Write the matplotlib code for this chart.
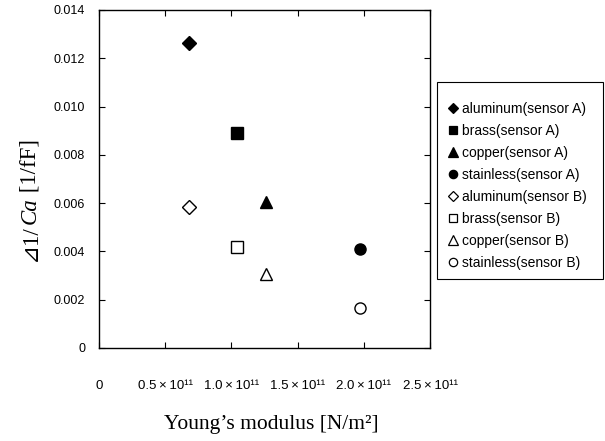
import matplotlib
matplotlib.use("Agg")
import matplotlib.pyplot as plt
from matplotlib.lines import Line2D
from matplotlib.patches import Rectangle

labels = ["aluminum(sensor A)", "brass(sensor A)", "copper(sensor A)", "stainless(sensor A)",
          "aluminum(sensor B)", "brass(sensor B)", "copper(sensor B)", "stainless(sensor B)"]
young = [0.68e11, 1.04e11, 1.265e11, 1.97e11, 0.68e11, 1.04e11, 1.265e11, 1.97e11]
dinv_ca = [0.01265, 0.00892, 0.00603, 0.00412, 0.00585, 0.00420, 0.00306, 0.00164]
markers = ["D", "s", "^", "o", "D", "s", "^", "o"]
filled = [True, True, True, True, False, False, False, False]
msizes = [7, 8.5, 9, 8, 7, 8.5, 9, 8]

xticks = [0, 0.5e11, 1.0e11, 1.5e11, 2.0e11, 2.5e11]
xticklabels = ["0", "0.5\u2009\u00d7\u200910\u00b9\u00b9", "1.0\u2009\u00d7\u200910\u00b9\u00b9",
               "1.5\u2009\u00d7\u200910\u00b9\u00b9", "2.0\u2009\u00d7\u200910\u00b9\u00b9",
               "2.5\u2009\u00d7\u200910\u00b9\u00b9"]
yticks = [0, 0.002, 0.004, 0.006, 0.008, 0.010, 0.012, 0.014]
yticklabels = ["0", "0.002", "0.004", "0.006", "0.008", "0.010", "0.012", "0.014"]

plt.rcParams['font.family'] = ['Liberation Sans', 'DejaVu Sans']
SERIF = ['Liberation Serif', 'DejaVu Serif', 'DejaVu Sans']

fig = plt.figure(figsize=(6.05, 4.41), dpi=100)
ax = fig.add_axes([99/605, 1-348/441, 331/605, 338/441])

handles = []
for x, y, m, f, s, lab in zip(young, dinv_ca, markers, filled, msizes, labels):
    ax.plot([x], [y], linestyle='none', marker=m, markersize=s,
            markerfacecolor='black' if f else 'white', markeredgecolor='black',
            markeredgewidth=1.0)
    handles.append(Line2D([], [], linestyle='none', marker=m, markersize=s*0.75,
                          markerfacecolor='black' if f else 'white',
                          markeredgecolor='black', markeredgewidth=0.9, label=lab))

ax.set_xlim(0, 2.5e11)
ax.set_ylim(0, 0.014)
ax.set_xticks(xticks)
ax.set_xticklabels(xticklabels, fontsize=9.5)
ax.set_yticks(yticks)
ax.set_yticklabels(yticklabels, fontsize=9)
ax.tick_params(direction='in', top=True, right=True, length=4.5, width=0.8)
ax.tick_params(axis='x', pad=23)
ax.tick_params(axis='y', pad=10)
for sp in ax.spines.values():
    sp.set_linewidth(1.0)

fig.text(271/605, 1-424/441, "Young\u2019s modulus [N/m\u00b2]", family=SERIF,
         fontsize=15.5, ha='center', va='center')

# y label built from pieces so that Ca is italic
renderer = fig.canvas.get_renderer()
ypos = 1 - 261/441
xc = 30/605
pieces = [("\u22bf1/", 'normal'), ("Ca", 'italic'), ("\u00a0[1/fF]", 'normal')]
for txt, style in pieces:
    t = fig.text(xc, ypos, txt, family=SERIF, style=style, fontsize=16.5,
                 rotation=90, ha='left', va='center', rotation_mode='anchor')
    bb = t.get_window_extent(renderer)
    ypos += bb.height / fig.bbox.height

fig.patches.append(Rectangle((437/605, 1-279/441), 166/605, 197/441,
                             transform=fig.transFigure, facecolor='white',
                             edgecolor='black', linewidth=0.8, zorder=0))
leg = fig.legend(handles=handles, loc='upper left', bbox_to_anchor=(448/605, 1-101.5/441),
                 fontsize=10, frameon=False,
                 handlelength=0.7, handletextpad=0.3, labelspacing=0.58,
                 borderpad=0, borderaxespad=0)

fig.savefig("out.png", dpi=100)
